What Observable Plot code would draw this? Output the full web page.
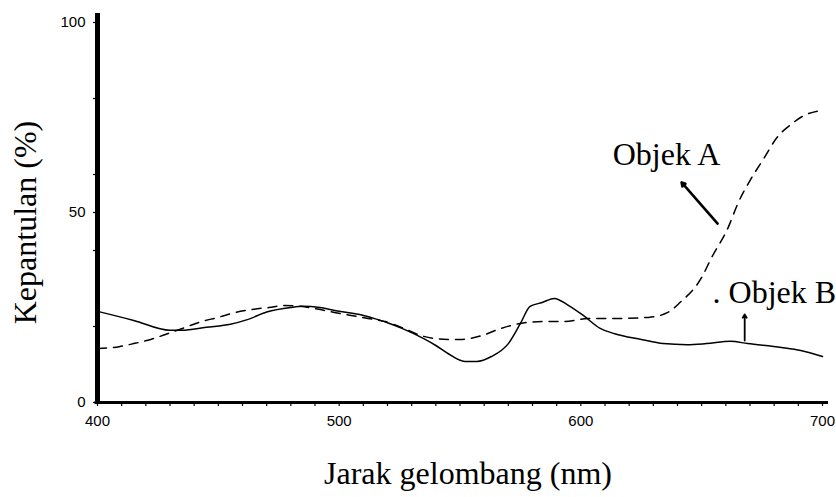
<!DOCTYPE html>
<html>
<head>
<meta charset="utf-8">
<script src="https://cdn.jsdelivr.net/npm/d3@7"></script>
<script src="https://cdn.jsdelivr.net/npm/@observablehq/plot@0.6"></script>
<style>
  html, body { margin: 0; padding: 0; background: #fff; }
</style>
</head>
<body>
<div id="chart"></div>
<script>
// Objek A (dashed)
const wavelengthA = [400, 409, 415, 422, 429, 436, 443, 450, 457, 464, 471, 477, 484, 491, 498, 505, 512, 519, 526, 535, 545, 550, 559, 567, 575, 584, 593, 603, 614, 628, 636, 641, 650, 654, 661, 665, 670, 676, 681, 687, 692, 699];
const reflectanceA = [14.2, 14.7, 15.5, 16.6, 18.1, 19.7, 21.3, 22.4, 23.7, 24.5, 25.0, 25.5, 25.3, 24.6, 23.7, 22.9, 22.1, 21.3, 19.7, 17.4, 16.6, 16.6, 17.6, 19.5, 20.8, 21.3, 21.3, 22.1, 22.1, 22.4, 23.7, 26.3, 32.9, 38.0, 46.1, 52.4, 58.4, 64.5, 69.6, 73.2, 75.4, 76.8];
// Objek B (solid)
const wavelengthB = [400, 415, 430, 435, 445, 455, 462, 470, 480, 485, 492, 500, 508, 515, 520, 526, 535, 540, 545, 552, 557, 563, 570, 575, 579, 584, 589, 595, 601, 608, 614, 625, 634, 644, 652, 662, 669, 683, 691, 700];
const reflectanceB = [24.0, 21.6, 19.0, 19.0, 19.8, 20.6, 21.8, 23.8, 25.0, 25.3, 25.0, 24.0, 23.2, 22.0, 21.0, 19.5, 16.8, 15.0, 12.9, 10.8, 10.8, 12.1, 15.5, 20.8, 25.3, 26.3, 27.4, 25.5, 22.9, 19.5, 18.1, 16.6, 15.5, 15.2, 15.5, 16.1, 15.5, 14.5, 13.7, 12.1];

const xTickValues = [400, 500, 600, 700];
const xMinorTicks = d3.range(400, 701, 10);
const yTickValues = [0, 50, 100];
const yMinorTicks = [0, 20, 40, 50, 60, 80, 100];

const xTitle = "Jarak gelombang (nm)";
const yTitle = "Kepantulan (%)";

// annotation labels and pointers (data coordinates)
const labelText = ["Objek A", ". Objek B"];
const labelX = [613.2, 654.5];
const labelY = [62.4, 26.1];
const pointerX1 = [656.6, 667.8];
const pointerY1 = [47.1, 16.3];
const pointerX2 = [641.7, 667.8];
const pointerY2 = [57.9, 23.2];
const pointerWidth = [2.6, 1.8];

const dataA = wavelengthA.map((w, i) => ({w, r: reflectanceA[i]}));
const dataB = wavelengthB.map((w, i) => ({w, r: reflectanceB[i]}));
const labels = labelText.map((t, i) => ({t, x: labelX[i], y: labelY[i]}));
const pointers = pointerX1.map((x1, i) => ({x1, y1: pointerY1[i], x2: pointerX2[i], y2: pointerY2[i], sw: pointerWidth[i]}));

const serif = "'Liberation Serif', 'Times New Roman', serif";
const sans = "'Liberation Sans', Arial, sans-serif";

const chart = Plot.plot({
  width: 836,
  height: 497,
  marginLeft: 97,
  marginRight: 14,
  marginTop: 22,
  marginBottom: 95,
  x: {domain: [400, 700]},
  y: {domain: [0, 100]},
  style: {background: "#fff", color: "#000", fontFamily: sans, fontSize: "15px"},
  marks: [
    Plot.axisX(xMinorTicks, {tickSize: 4, tickFormat: () => "", label: null, strokeWidth: 1.2}),
    Plot.axisX(xTickValues, {tickSize: 0, tickPadding: 13, label: null, fontSize: 15, fontFamily: sans}),
    Plot.axisY(yMinorTicks, {tickSize: 4, tickFormat: () => "", label: null, strokeWidth: 1.2}),
    Plot.axisY(yTickValues, {tickSize: 0, tickPadding: 12, label: null, fontSize: 15, fontFamily: sans}),
    Plot.ruleX([400], {y1: 0, y2: 102.4, strokeWidth: 5}),
    Plot.ruleY([0], {x1: 399, x2: 702.5, strokeWidth: 3}),
    Plot.line(dataB, {x: "w", y: "r", stroke: "#000", strokeWidth: 1.5, curve: "monotone-x"}),
    Plot.line(dataA, {x: "w", y: "r", stroke: "#000", strokeWidth: 1.5, strokeDasharray: "9,7", curve: "monotone-x"}),
    Plot.arrow(pointers, {x1: "x1", y1: "y1", x2: "x2", y2: "y2", strokeWidth: "sw", stroke: "#000", headLength: 6}),
    Plot.text(labels, {x: "x", y: "y", text: "t", textAnchor: "start", lineAnchor: "bottom", fontFamily: serif, fontSize: 32, fill: "#000"}),
    Plot.text([xTitle], {frameAnchor: "bottom", textAnchor: "middle", lineAnchor: "middle", dx: 8, dy: 71, fontFamily: serif, fontSize: 32, fill: "#000"}),
    Plot.text([yTitle], {frameAnchor: "left", textAnchor: "middle", lineAnchor: "middle", rotate: -90, dx: -72, dy: 10, fontFamily: serif, fontSize: 32, fill: "#000"})
  ]
});
document.getElementById("chart").appendChild(chart);
</script>
</body>
</html>
